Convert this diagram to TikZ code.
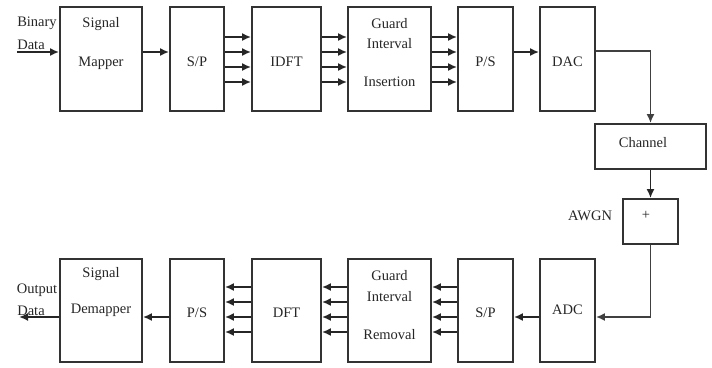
\documentclass[tikz,border=0pt]{standalone}
\usepackage{fontspec}
\setmainfont{Liberation Serif}
\usetikzlibrary{arrows.meta}
\begin{document}
\begin{tikzpicture}[x=1pt,y=-1pt,
  blk/.style n args={2}{draw=black!80,line width=1.8pt,inner sep=0pt,minimum width=#1,minimum height=#2},
  txt/.style={inner sep=0pt,font=\fontsize{14.5}{16}\selectfont,text=black!85},
  tip/.style={-{Latex[length=9pt,width=8pt]}},
  conn/.style={draw=black!85,line width=1.8pt,tip},
  wire/.style={draw=black!75,line width=1.8pt}]
\path[use as bounding box] (0,0) rectangle (712,367);
% row coordinates
\coordinate (a1) at (0,37); \coordinate (a2) at (0,52);
\coordinate (a3) at (0,67); \coordinate (a4) at (0,82);
\coordinate (b1) at (0,287); \coordinate (b2) at (0,302);
\coordinate (b3) at (0,317); \coordinate (b4) at (0,332);
% top row
\node[blk={82pt}{104pt}] (mapper) at (101,59) {};
\node[blk={54pt}{104pt}] (sp1) at (197,59) {};
\node[blk={69pt}{104pt}] (idft) at (286.5,59) {};
\node[blk={83pt}{104pt}] (gii) at (389.5,59) {};
\node[blk={55pt}{104pt}] (ps1) at (485.5,59) {};
\node[blk={55pt}{104pt}] (dac) at (567.5,59) {};
% channel & noise
\node[blk={111pt}{45pt}] (chan) at (650.5,146.5) {};
\node[blk={55pt}{45pt}] (plus) at (650.5,221.5) {};
% bottom row
\node[blk={82pt}{103pt}] (demap) at (101,310.5) {};
\node[blk={54pt}{103pt}] (ps2) at (197,310.5) {};
\node[blk={69pt}{103pt}] (dft) at (286.5,310.5) {};
\node[blk={83pt}{103pt}] (gir) at (389.5,310.5) {};
\node[blk={55pt}{103pt}] (sp2) at (485.5,310.5) {};
\node[blk={55pt}{103pt}] (adc) at (567.5,310.5) {};
% texts top
\node[txt] (tbin) at (37,23) {Binary};
\node[txt] (tdat) at (31,45) {Data};
\node[txt] (tsig) at (101,24) {Signal};
\node[txt] (tmap) at (101,63) {Mapper};
\node[txt] (tsp1) at (197,62) {S/P};
\node[txt] (tidft) at (286.5,62) {IDFT};
\node[txt] (tg1) at (389.5,24) {Guard};
\node[txt] (ti1) at (389.5,44) {Interval};
\node[txt] (tins) at (389.5,82) {Insertion};
\node[txt] (tps1) at (485.5,62) {P/S};
\node[txt] (tdac) at (567.5,62) {DAC};
\node[txt] (tchan) at (643,143) {Channel};
\node[txt] (tplus) at (646,215) {+};
\node[txt] (tawgn) at (590,216) {AWGN};
% texts bottom
\node[txt] (tout) at (37,290) {Output};
\node[txt] (tdat2) at (31,311) {Data};
\node[txt] (tsig2) at (101,274) {Signal};
\node[txt] (tdem) at (101,310) {Demapper};
\node[txt] (tps2) at (197,313) {P/S};
\node[txt] (tdft) at (286.5,313) {DFT};
\node[txt] (tg2) at (389.5,276) {Guard};
\node[txt] (ti2) at (389.5,297) {Interval};
\node[txt] (trem) at (389.5,335) {Removal};
\node[txt] (tsp2) at (485.5,313) {S/P};
\node[txt] (tadc) at (567.5,310) {ADC};
% connectors top
\coordinate (in) at (17,52);
\draw[conn] (in) -- (mapper.west |- in);
\draw[conn] (mapper.east |- a2) -- (sp1.west |- a2);
\foreach \r in {a1,a2,a3,a4}{
  \draw[conn] (sp1.east |- \r) -- (idft.west |- \r);
  \draw[conn] (idft.east |- \r) -- (gii.west |- \r);
  \draw[conn] (gii.east |- \r) -- (ps1.west |- \r);
}
\draw[conn] (ps1.east |- a2) -- (dac.west |- a2);
\coordinate (dacout) at (0,51);
\draw[wire,tip] (dac.east |- dacout) -| (chan.north);
\draw[conn] (chan.south) -- (plus.north);
\draw[wire,tip] (plus.south) |- (adc.east |- b3);
% connectors bottom
\draw[conn] (adc.west |- b3) -- (sp2.east |- b3);
\foreach \r in {b1,b2,b3,b4}{
  \draw[conn] (sp2.west |- \r) -- (gir.east |- \r);
  \draw[conn] (gir.west |- \r) -- (dft.east |- \r);
  \draw[conn] (dft.west |- \r) -- (ps2.east |- \r);
}
\draw[conn] (ps2.west |- b3) -- (demap.east |- b3);
\coordinate (outp) at (19,317);
\draw[conn] (demap.west |- b3) -- (outp);
\end{tikzpicture}
\end{document}
